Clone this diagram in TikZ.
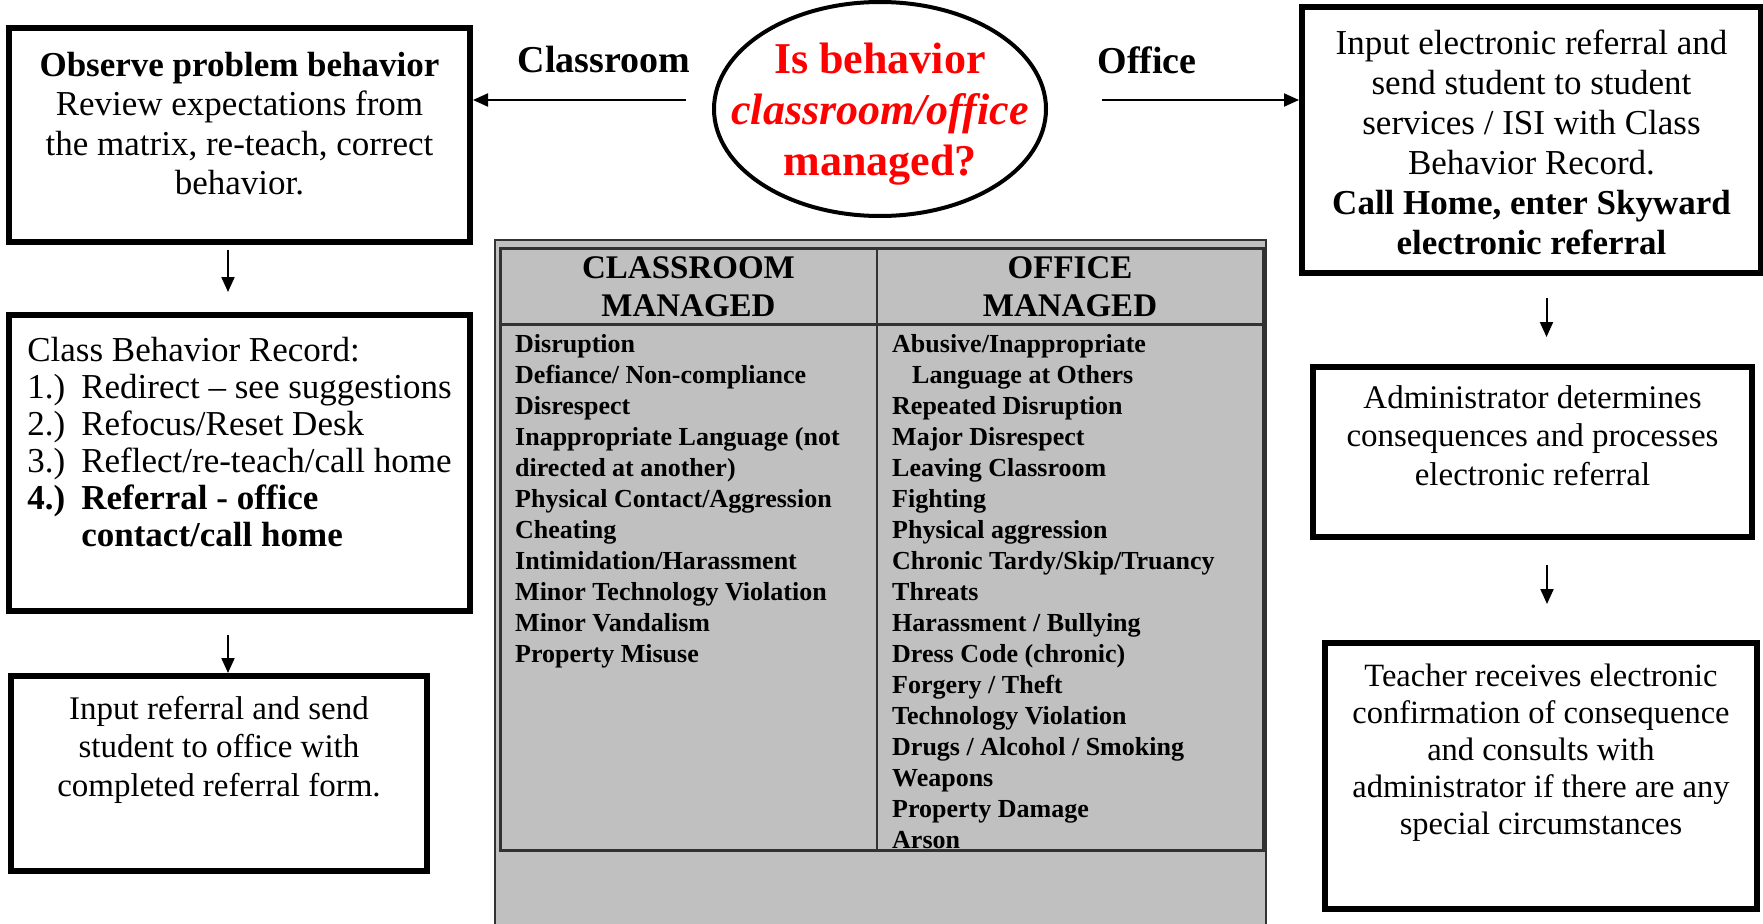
\documentclass[tikz,border=0pt]{standalone}
\usepackage{fontspec}
\setmainfont{Liberation Serif}
\usetikzlibrary{shapes.geometric,arrows.meta}
\definecolor{tablegray}{RGB}{192,192,192}
\definecolor{rulegray}{RGB}{50,50,50}

\begin{document}
\begin{tikzpicture}[x=1pt,y=-1pt,
  flowbox/.style={draw,line width=6pt,inner sep=0pt,align=center},
  flowarrow/.style={line width=2pt,-{Triangle[length=15pt,width=13pt]}},
  entry/.style={anchor=base west,inner sep=0pt,font=\fontsize{26}{31}\selectfont\bfseries},
  headtext/.style={align=center,inner sep=0pt,font=\fontsize{33}{38}\selectfont\bfseries}]

\useasboundingbox (0,0) rectangle (1763,923);

\node[ellipse,draw,line width=4pt,minimum width=332pt,minimum height=214pt,inner sep=0pt] (q) at (880,109) {};
\node[align=center,inner sep=0pt,text=red,font=\fontsize{44}{51}\selectfont\bfseries] (qtext) at (880,114.5) {Is behavior\\\textit{classroom/office}\\managed?};
\node[font=\fontsize{38}{44}\selectfont\bfseries] (lcl) at (604,60) {Classroom};
\node[font=\fontsize{38}{44}\selectfont\bfseries] (lof) at (1147,60) {Office};

\node[flowbox,minimum width=461pt,minimum height=214pt,text height=166.5pt,text depth=47.5pt,font=\fontsize{35}{39.5}\selectfont] (obs) at (239.5,135) {\textbf{Observe problem behavior}\\Review expectations from\\the matrix, re-teach, correct\\behavior.};
\node[flowbox,align=left,minimum width=461pt,minimum height=296pt,text height=231pt,text depth=65pt,font=\fontsize{35}{37}\selectfont] (cbr) at (239.5,463) {Class Behavior Record:\\\makebox[54pt][l]{1.)}Redirect -- see suggestions\\\makebox[54pt][l]{2.)}Refocus/Reset Desk\\\makebox[54pt][l]{3.)}Reflect/re-teach/call home\\\textbf{\makebox[54pt][l]{4.)}Referral - office}\\\hspace*{54pt}\textbf{contact/call home}};
\node[flowbox,minimum width=416pt,minimum height=195pt,text height=120pt,text depth=75pt,font=\fontsize{33}{38.5}\selectfont] (inref) at (219,773.5) {Input referral and send\\student to office with\\completed referral form.};

\node[flowbox,minimum width=459pt,minimum height=266pt,text height=247pt,text depth=19pt,font=\fontsize{35}{40}\selectfont] (elec) at (1531.5,140) {Input electronic referral and\\send student to student\\services / ISI with Class\\Behavior Record.\\\textbf{Call Home, enter Skyward}\\\textbf{electronic referral}};
\node[flowbox,minimum width=439pt,minimum height=170pt,text height=118pt,text depth=52pt,font=\fontsize{33}{38.5}\selectfont] (admin) at (1532.5,452) {Administrator determines\\consequences and processes\\electronic referral};
\node[flowbox,minimum width=432pt,minimum height=266pt,text height=191pt,text depth=75pt,font=\fontsize{32.5}{37}\selectfont] (teach) at (1541,776) {Teacher receives electronic\\confirmation of consequence\\and consults with\\administrator if there are any\\special circumstances};

\coordinate (cl) at (686,100);
\coordinate (of) at (1102,100);
\draw[flowarrow] (cl) -- (cl -| obs.east);
\draw[flowarrow] (of) -- (of -| elec.west);
\draw[flowarrow,shorten <=5pt,shorten >=20pt] ([xshift=-11.5pt]obs.south) -- ([xshift=-11.5pt]obs.south |- cbr.north);
\draw[flowarrow,shorten <=21pt] ([xshift=-11.5pt]cbr.south) -- ([xshift=-11.5pt]cbr.south |- inref.north);
\draw[flowarrow,shorten <=22pt,shorten >=27pt] ([xshift=15pt]elec.south) -- ([xshift=15pt]elec.south |- admin.north);
\draw[flowarrow,shorten <=25pt,shorten >=36pt] ([xshift=14.5pt]admin.south) -- ([xshift=14.5pt]admin.south |- teach.north);

\draw[rulegray,line width=2.5pt,fill=tablegray] (495,240) rectangle (1266,935);
\draw[rulegray,line width=3pt] (500,248) rectangle (1263,850);
\draw[rulegray,line width=2.5pt] (877,248) -- (877,850);
\draw[rulegray,line width=3pt] (500,324) -- (1263,324);
\node[headtext] (hcl) at (688.5,287) {CLASSROOM\\MANAGED};
\node[headtext] (hof) at (1070,287) {OFFICE\\MANAGED};

\node[entry] (c1) at (515,352) {Disruption};
\node[entry] (c2) at (515,383) {Defiance/ Non-compliance};
\node[entry] (c3) at (515,414) {Disrespect};
\node[entry] (c4) at (515,445) {Inappropriate Language (not};
\node[entry] (c5) at (515,476) {directed at another)};
\node[entry] (c6) at (515,507) {Physical Contact/Aggression};
\node[entry] (c7) at (515,538) {Cheating};
\node[entry] (c8) at (515,569) {Intimidation/Harassment};
\node[entry] (c9) at (515,600) {Minor Technology Violation};
\node[entry] (c10) at (515,631) {Minor Vandalism};
\node[entry] (c11) at (515,662) {Property Misuse};

\node[entry] (o1) at (892,352) {Abusive/Inappropriate};
\node[entry] (o2) at (912,383) {Language at Others};
\node[entry] (o3) at (892,414) {Repeated Disruption};
\node[entry] (o4) at (892,445) {Major Disrespect};
\node[entry] (o5) at (892,476) {Leaving Classroom};
\node[entry] (o6) at (892,507) {Fighting};
\node[entry] (o7) at (892,538) {Physical aggression};
\node[entry] (o8) at (892,569) {Chronic Tardy/Skip/Truancy};
\node[entry] (o9) at (892,600) {Threats};
\node[entry] (o10) at (892,631) {Harassment / Bullying};
\node[entry] (o11) at (892,662) {Dress Code (chronic)};
\node[entry] (o12) at (892,693) {Forgery / Theft};
\node[entry] (o13) at (892,724) {Technology Violation};
\node[entry] (o14) at (892,755) {Drugs / Alcohol / Smoking};
\node[entry] (o15) at (892,786) {Weapons};
\node[entry] (o16) at (892,817) {Property Damage};
\node[entry] (o17) at (892,848) {Arson};
\end{tikzpicture}
\end{document}
